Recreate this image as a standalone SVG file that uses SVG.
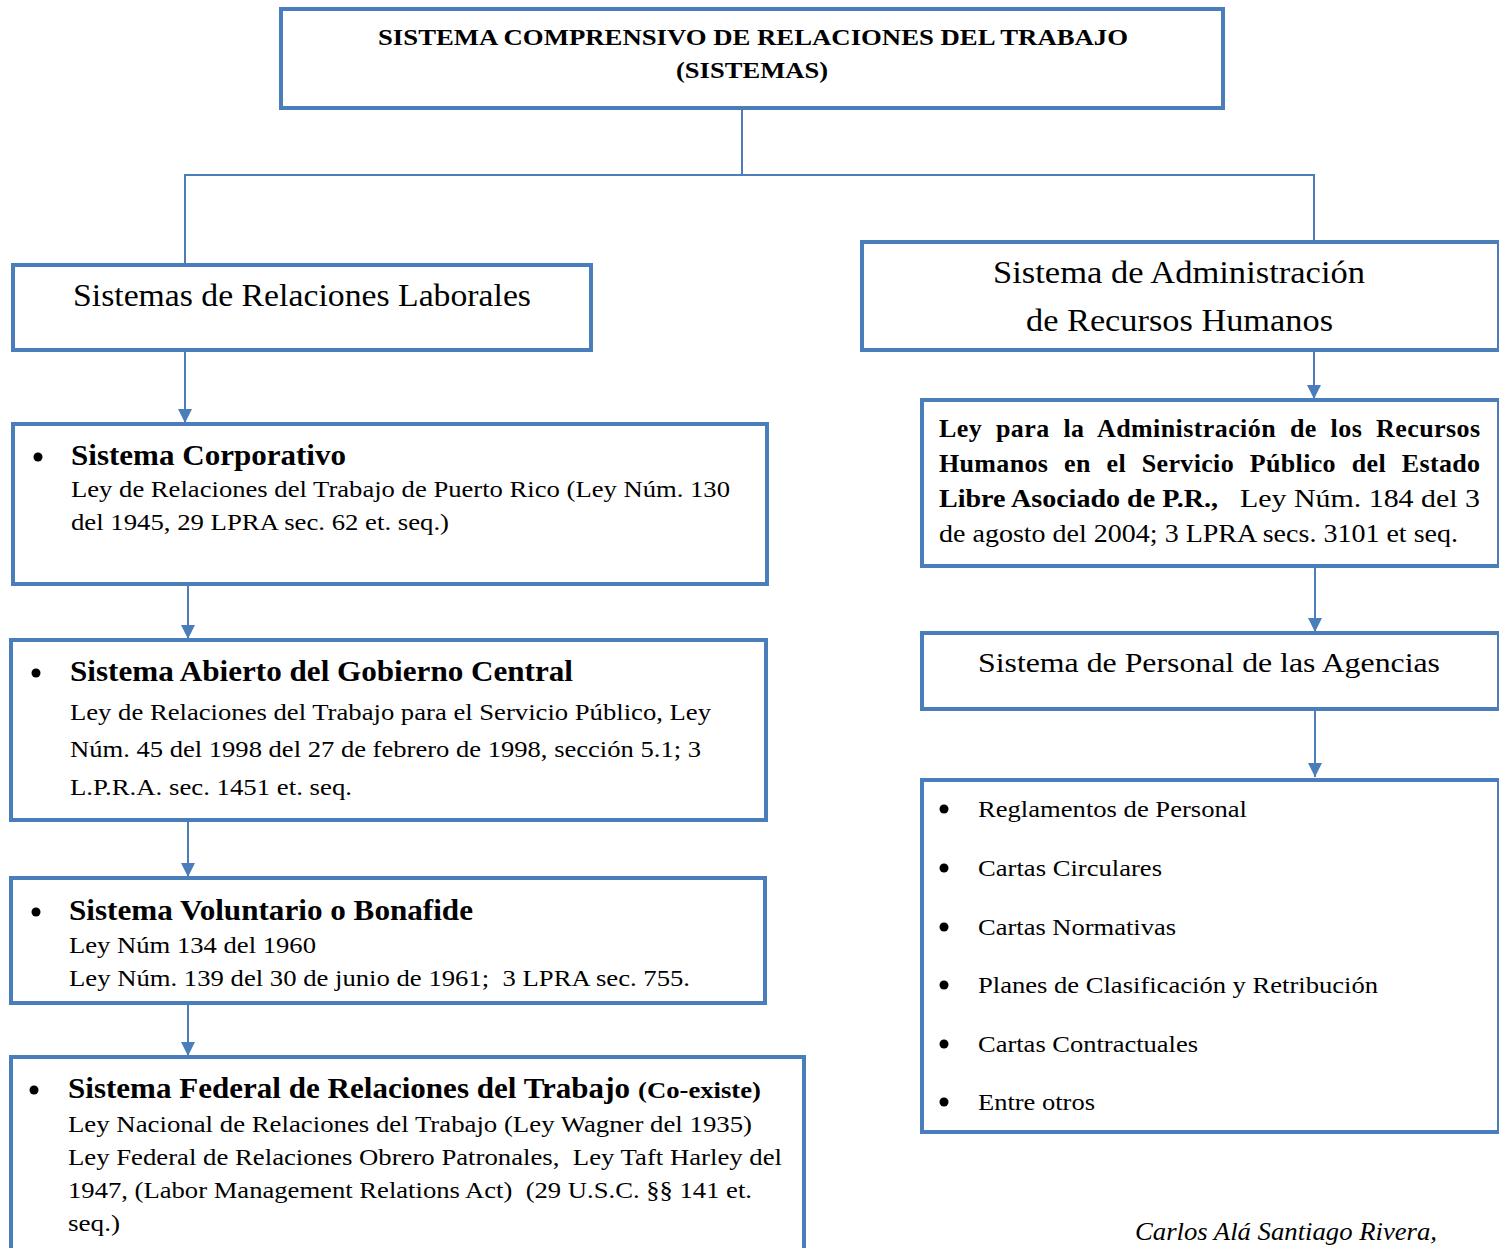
<svg xmlns="http://www.w3.org/2000/svg" width="1499" height="1248" viewBox="0 0 1499 1248">
<defs>
<marker id="arr" markerUnits="userSpaceOnUse" markerWidth="14" markerHeight="14" viewBox="0 0 14 14" refX="14" refY="7" orient="auto">
<path d="M0,0 L14,7 L0,14 Z" fill="#4a7ebb"/>
</marker>
<style>
.box{fill:#fff;stroke:#4a7ebb;stroke-width:4}
.ln{fill:none;stroke:#4a7ebb;stroke-width:2}
text{font-family:'Liberation Serif','Times New Roman',Tinos,Times,serif;fill:#000}
.b{font-weight:bold}
.tb{font-size:24px}
.tt{font-size:29px;font-weight:bold}
</style>
</defs>
<rect width="1499" height="1248" fill="#fff"/>

<g id="connectors">
<polyline class="ln" points="742,108 742,175"/>
<polyline class="ln" points="185,265 185,175 1314,175 1314,242"/>
<line class="ln" x1="185" y1="350" x2="185" y2="423" marker-end="url(#arr)"/>
<line class="ln" x1="188" y1="584" x2="188" y2="639" marker-end="url(#arr)"/>
<line class="ln" x1="188" y1="820" x2="188" y2="877" marker-end="url(#arr)"/>
<line class="ln" x1="188" y1="1003" x2="188" y2="1056" marker-end="url(#arr)"/>
<line class="ln" x1="1314" y1="350" x2="1314" y2="399" marker-end="url(#arr)"/>
<line class="ln" x1="1315" y1="566" x2="1315" y2="632" marker-end="url(#arr)"/>
<line class="ln" x1="1315" y1="709" x2="1315" y2="777" marker-end="url(#arr)"/>
</g>

<g id="top">
<rect class="box" x="281" y="9" width="942" height="99"/>
<text class="b" font-size="24" x="378" y="45" textLength="750" lengthAdjust="spacingAndGlyphs">SISTEMA COMPRENSIVO DE RELACIONES DEL TRABAJO</text>
<text class="b" font-size="24" x="676" y="78" textLength="152" lengthAdjust="spacingAndGlyphs">(SISTEMAS)</text>
</g>

<g id="laborales">
<rect class="box" x="13" y="265" width="578" height="85"/>
<text font-size="31" x="73" y="306" textLength="458" lengthAdjust="spacingAndGlyphs">Sistemas de Relaciones Laborales</text>
</g>

<g id="corporativo">
<rect class="box" x="13" y="424" width="754" height="160"/>
<circle cx="38" cy="457" r="4.5" fill="#000"/>
<text class="tt" x="71" y="465" textLength="275" lengthAdjust="spacingAndGlyphs">Sistema Corporativo</text>
<text class="tb" x="71" y="497" textLength="659" lengthAdjust="spacingAndGlyphs">Ley de Relaciones del Trabajo de Puerto Rico (Ley Núm. 130</text>
<text class="tb" x="71" y="530" textLength="378" lengthAdjust="spacingAndGlyphs">del 1945, 29 LPRA sec. 62 et. seq.)</text>
</g>

<g id="abierto">
<rect class="box" x="11" y="640" width="755" height="180"/>
<circle cx="36" cy="673" r="4.5" fill="#000"/>
<text class="tt" x="70" y="681" textLength="503" lengthAdjust="spacingAndGlyphs">Sistema Abierto del Gobierno Central</text>
<text class="tb" x="70" y="720" textLength="641" lengthAdjust="spacingAndGlyphs">Ley de Relaciones del Trabajo para el Servicio Público, Ley</text>
<text class="tb" x="70" y="757" textLength="631" lengthAdjust="spacingAndGlyphs">Núm. 45 del 1998 del 27 de febrero de 1998, sección 5.1; 3</text>
<text class="tb" x="70" y="795" textLength="282" lengthAdjust="spacingAndGlyphs">L.P.R.A. sec. 1451 et. seq.</text>
</g>

<g id="voluntario">
<rect class="box" x="11" y="878" width="754" height="125"/>
<circle cx="36" cy="912" r="4.5" fill="#000"/>
<text class="tt" x="69" y="920" textLength="404" lengthAdjust="spacingAndGlyphs">Sistema Voluntario o Bonafide</text>
<text class="tb" x="69" y="953" textLength="247" lengthAdjust="spacingAndGlyphs">Ley Núm 134 del 1960</text>
<text class="tb" x="69" y="986" textLength="621" lengthAdjust="spacingAndGlyphs" xml:space="preserve">Ley Núm. 139 del 30 de junio de 1961;  3 LPRA sec. 755.</text>
</g>

<g id="federal">
<rect class="box" x="11" y="1057" width="793" height="200"/>
<circle cx="34" cy="1090" r="4.5" fill="#000"/>
<text class="tt" x="68" y="1098" textLength="562" lengthAdjust="spacingAndGlyphs">Sistema Federal de Relaciones del Trabajo</text>
<text class="b" font-size="23" x="638" y="1098" textLength="123" lengthAdjust="spacingAndGlyphs">(Co-existe)</text>
<text class="tb" x="68" y="1132" textLength="684" lengthAdjust="spacingAndGlyphs">Ley Nacional de Relaciones del Trabajo (Ley Wagner del 1935)</text>
<text class="tb" x="68" y="1165" textLength="714" lengthAdjust="spacingAndGlyphs" xml:space="preserve">Ley Federal de Relaciones Obrero Patronales,  Ley Taft Harley del</text>
<text class="tb" x="68" y="1198" textLength="684" lengthAdjust="spacingAndGlyphs" xml:space="preserve">1947, (Labor Management Relations Act)  (29 U.S.C. §§ 141 et.</text>
<text class="tb" x="68" y="1231" textLength="52" lengthAdjust="spacingAndGlyphs">seq.)</text>
</g>

<g id="admin">
<rect class="box" x="862" y="242" width="637" height="108"/>
<text font-size="31" x="993" y="283" textLength="372" lengthAdjust="spacingAndGlyphs">Sistema de Administración</text>
<text font-size="31" x="1026" y="331" textLength="307" lengthAdjust="spacingAndGlyphs">de Recursos Humanos</text>
</g>

<g id="ley184">
<rect class="box" x="922" y="400" width="577" height="166"/>
<text class="b" font-size="26" x="939" y="437" word-spacing="7" textLength="541" lengthAdjust="spacing">Ley para la Administración de los Recursos</text>
<text class="b" font-size="26" x="939" y="472" word-spacing="9" textLength="541" lengthAdjust="spacing">Humanos en el Servicio Público del Estado</text>
<text class="b" font-size="26" x="939" y="507" textLength="279" lengthAdjust="spacingAndGlyphs">Libre Asociado de P.R.,</text>
<text font-size="26" x="1240" y="507" textLength="240" lengthAdjust="spacingAndGlyphs">Ley Núm. 184 del 3</text>
<text font-size="26" x="939" y="542" textLength="519" lengthAdjust="spacingAndGlyphs">de agosto del 2004; 3 LPRA secs. 3101 et seq.</text>
</g>

<g id="personal">
<rect class="box" x="922" y="633" width="577" height="76"/>
<text font-size="28" x="978" y="672" textLength="462" lengthAdjust="spacingAndGlyphs">Sistema de Personal de las Agencias</text>
</g>

<g id="lista">
<rect class="box" x="922" y="780" width="577" height="352"/>
<circle cx="944" cy="809" r="4.5" fill="#000"/>
<text class="tb" x="978" y="817" textLength="269" lengthAdjust="spacingAndGlyphs">Reglamentos de Personal</text>
<circle cx="944" cy="868" r="4.5" fill="#000"/>
<text class="tb" x="978" y="876" textLength="184" lengthAdjust="spacingAndGlyphs">Cartas Circulares</text>
<circle cx="944" cy="927" r="4.5" fill="#000"/>
<text class="tb" x="978" y="935" textLength="198" lengthAdjust="spacingAndGlyphs">Cartas Normativas</text>
<circle cx="944" cy="985" r="4.5" fill="#000"/>
<text class="tb" x="978" y="993" textLength="400" lengthAdjust="spacingAndGlyphs">Planes de Clasificación y Retribución</text>
<circle cx="944" cy="1044" r="4.5" fill="#000"/>
<text class="tb" x="978" y="1052" textLength="220" lengthAdjust="spacingAndGlyphs">Cartas Contractuales</text>
<circle cx="944" cy="1102" r="4.5" fill="#000"/>
<text class="tb" x="978" y="1110" textLength="117" lengthAdjust="spacingAndGlyphs">Entre otros</text>
</g>

<text font-style="italic" font-size="25" x="1135" y="1240" textLength="302" lengthAdjust="spacingAndGlyphs">Carlos Alá Santiago Rivera,</text>
</svg>
